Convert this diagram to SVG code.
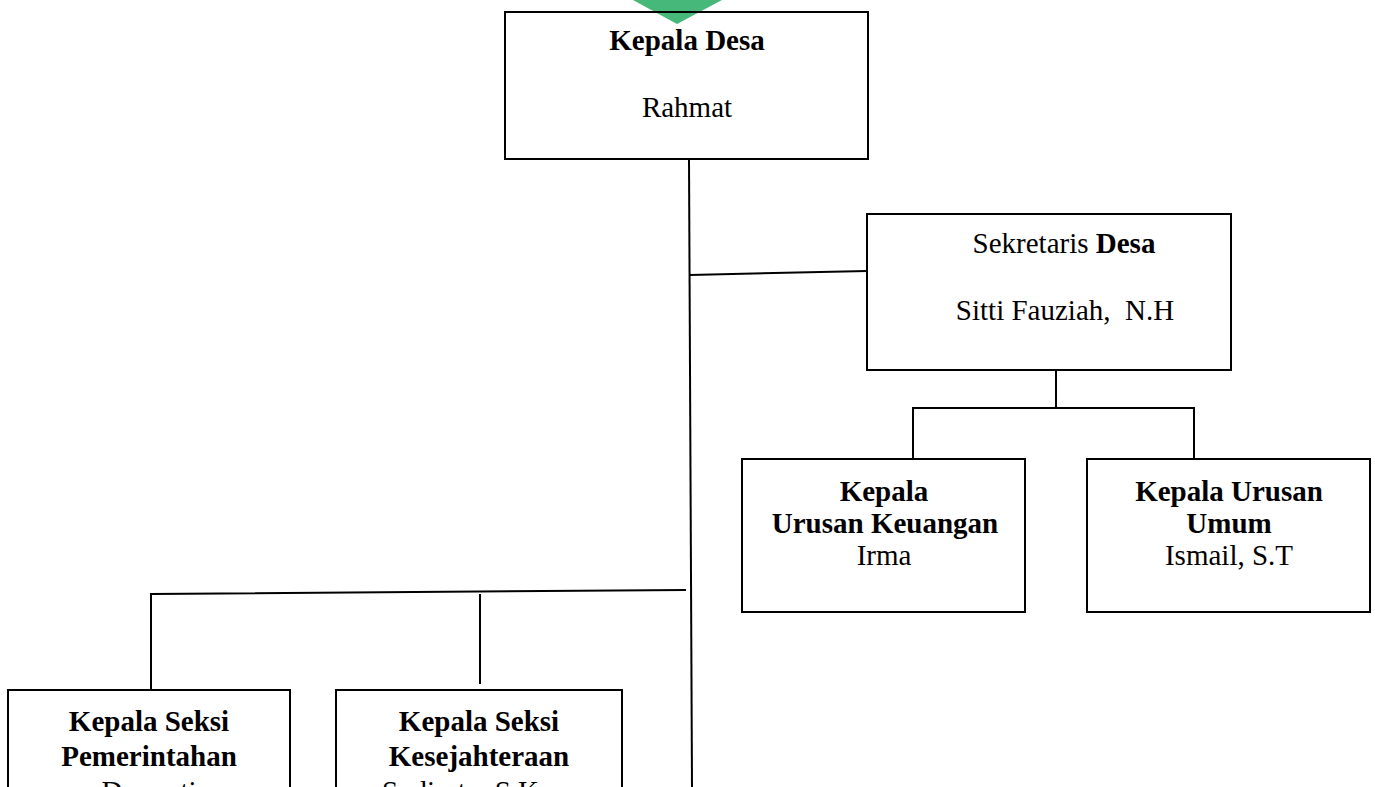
<svg xmlns="http://www.w3.org/2000/svg" width="1375" height="787" viewBox="0 0 1375 787">
<style>
.box{fill:#fff;stroke:#000;stroke-width:2}
.ln{fill:none;stroke:#000;stroke-width:2}
text{font-family:"Liberation Serif","Times New Roman",serif;font-size:29px;fill:#000;text-anchor:middle}
.b{font-weight:bold}
</style>
<rect width="1375" height="787" fill="#fff"/>
<g id="connectors">
<path class="ln" d="M689 160 L692 787"/>
<path class="ln" d="M690 275 L867 271"/>
<path class="ln" d="M1056 370 V408 M913 459 V408 H1194 V459"/>
<path class="ln" d="M151 690 V594 L686 590"/>
<path class="ln" d="M480 594 V684"/>
</g>
<polygon points="633,0 722,0 677,24" fill="#45b87a"/>
<g id="kepala-desa">
<rect class="box" x="505" y="12" width="363" height="147" fill-opacity="0"/>
<text x="687" y="50" class="b">Kepala Desa</text>
<text x="687" y="117">Rahmat</text>
</g>
<g id="sekretaris">
<rect class="box" x="867" y="214" width="364" height="156"/>
<text x="1064" y="253">Sekretaris <tspan class="b">Desa</tspan></text>
<text x="1065" y="320" xml:space="preserve">Sitti Fauziah,  N.H</text>
</g>
<g id="kaur-keuangan">
<rect class="box" x="742" y="459" width="283" height="153"/>
<text x="884" y="501" class="b">Kepala</text>
<text x="885" y="533" class="b">Urusan Keuangan</text>
<text x="884" y="565">Irma</text>
</g>
<g id="kaur-umum">
<rect class="box" x="1087" y="459" width="283" height="153"/>
<text x="1229" y="501" class="b">Kepala Urusan</text>
<text x="1229" y="533" class="b">Umum</text>
<text x="1229" y="565">Ismail, S.T</text>
</g>
<g id="kasi-pemerintahan">
<rect class="box" x="8" y="690" width="282" height="120"/>
<text x="149" y="731" class="b">Kepala Seksi</text>
<text x="149" y="766" class="b">Pemerintahan</text>
<text x="149" y="801">Darmati</text>
</g>
<g id="kasi-kesejahteraan">
<rect class="box" x="336" y="690" width="286" height="120"/>
<text x="479" y="731" class="b">Kepala Seksi</text>
<text x="479" y="766" class="b">Kesejahteraan</text>
<text x="479" y="801">Sudiarto, S.Kom</text>
</g>
</svg>
